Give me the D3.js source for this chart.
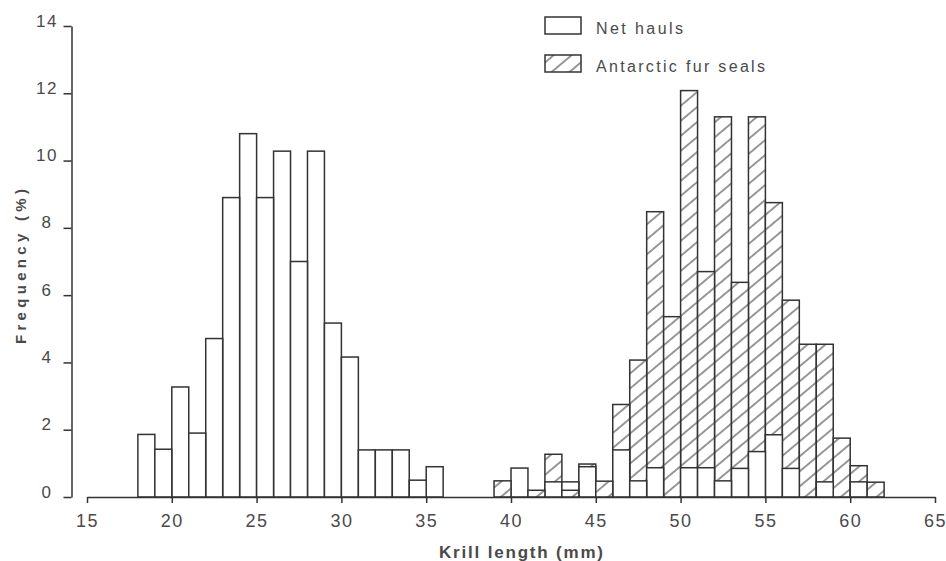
<!DOCTYPE html>
<html>
<head>
<meta charset="utf-8">
<script src="https://cdn.jsdelivr.net/npm/d3@7"></script>
<style>
  body { margin: 0; background: #fff; }
  text { font-family: "Liberation Sans", Arial, sans-serif; fill: #4a4a4a; }
</style>
</head>
<body>
<svg id="chart" width="946" height="561"></svg>
<script>
  // lower edge of each 1 mm length class
  var binStarts = [18, 19, 20, 21, 22, 23, 24, 25, 26, 27, 28, 29, 30, 31, 32, 33, 34, 35, 36, 37, 38, 39,
                   40, 41, 42, 43, 44, 45, 46, 47, 48, 49, 50, 51, 52, 53, 54, 55, 56, 57, 58, 59, 60, 61];

  // frequency (%) per class
  var netHauls = [1.86, 1.42, 3.27, 1.9, 4.71, 8.9, 10.8, 8.9, 10.28, 7.0, 10.28, 5.17, 4.16, 1.4, 1.4, 1.4, 0.5, 0.9, 0, 0, 0, 0,
                  0.86, 0, 0.45, 0.45, 0.9, 0, 1.4, 0.48, 0.87, 0, 0.87, 0.87, 0.48, 0.85, 1.35, 1.85, 0.85, 0, 0.45, 0, 0.45, 0];
  var furSeals = [0, 0, 0, 0, 0, 0, 0, 0, 0, 0, 0, 0, 0, 0, 0, 0, 0, 0, 0, 0, 0, 0.48,
                  0, 0.2, 1.27, 0.2, 0.98, 0.47, 2.75, 4.07, 8.48, 5.36, 12.08, 6.7, 11.3, 6.38, 11.3, 8.75, 5.85, 4.54, 4.54, 1.75, 0.93, 0.44];

  var xTicks = [15, 20, 25, 30, 35, 40, 45, 50, 55, 60, 65];
  var yTicks = [0, 2, 4, 6, 8, 10, 12, 14];
  var legendLabels = ["Net hauls", "Antarctic fur seals"];

  var svg = d3.select("#chart"),
      margin = {top: 26, right: 11, bottom: 64, left: 87},
      width = +svg.attr("width") - margin.left - margin.right,
      height = +svg.attr("height") - margin.top - margin.bottom;

  var x = d3.scaleLinear().domain([15, 65]).range([0, width]),
      y = d3.scaleLinear().domain([0, 14]).range([height, 0]);

  var ink = "#333";

  // diagonal hatching for the fur seal bars
  svg.append("defs").append("pattern")
      .attr("id", "hatch")
      .attr("patternUnits", "userSpaceOnUse")
      .attr("width", 10)
      .attr("height", 11.5)
      .attr("patternTransform", "rotate(-40)")
    .call(function(p) {
      p.append("rect").attr("width", 10).attr("height", 11.5).attr("fill", "#fff");
      p.append("line")
          .attr("x1", 0).attr("x2", 10)
          .attr("y1", 5.75).attr("y2", 5.75)
          .attr("stroke", "#444")
          .attr("stroke-width", 1.1);
    });

  var g = svg.append("g")
      .attr("transform", "translate(" + margin.left + "," + margin.top + ")");

  // both series start at zero in every class; the taller one goes behind
  var bars = [];
  binStarts.forEach(function(b, i) {
    if (netHauls[i] > 0) bars.push({bin: b, value: netHauls[i], kind: "net"});
    if (furSeals[i] > 0) bars.push({bin: b, value: furSeals[i], kind: "seal"});
  });
  bars.sort(function(a, b) { return b.value - a.value; });

  g.selectAll(".bar")
      .data(bars)
    .enter().append("rect")
      .attr("class", "bar")
      .attr("x", function(d) { return x(d.bin); })
      .attr("width", function(d) { return x(d.bin + 1) - x(d.bin); })
      .attr("y", function(d) { return y(d.value); })
      .attr("height", function(d) { return height - y(d.value); })
      .attr("fill", function(d) { return d.kind === "seal" ? "url(#hatch)" : "#fff"; })
      .attr("stroke", ink)
      .attr("stroke-width", 1.5);

  // x axis, detached from the y axis
  var xAxis = g.append("g")
      .attr("transform", "translate(0," + height + ")")
      .attr("color", ink)
      .attr("font-size", null)
      .call(d3.axisBottom(x).tickValues(xTicks).tickSize(6).tickSizeOuter(0));
  xAxis.selectAll("path, line").attr("stroke-width", 1.5);
  xAxis.selectAll("text")
      .attr("y", 30)
      .attr("dy", null)
      .attr("font-size", 18)
      .style("font-size", "18px")
      .style("letter-spacing", "1.5px")
      .style("fill", "#4a4a4a");

  var yAxis = g.append("g")
      .attr("transform", "translate(-15.5,0)")
      .attr("color", ink)
      .call(d3.axisLeft(y).tickValues(yTicks).tickSize(8).tickSizeOuter(0));
  yAxis.selectAll("path, line").attr("stroke-width", 1.5);
  yAxis.selectAll("text")
      .attr("x", -24.5)
      .attr("y", 0)
      .attr("dy", null)
      .attr("text-anchor", "middle")
      .style("font-size", "17px")
      .style("letter-spacing", "1.5px")
      .style("fill", "#4a4a4a");

  // axis titles
  svg.append("text")
      .attr("x", 439)
      .attr("y", 558)
      .attr("textLength", 164)
      .attr("lengthAdjust", "spacing")
      .style("font-size", "17px")
      .style("font-weight", "bold")
      .text("Krill length (mm)");

  svg.append("text")
      .attr("transform", "translate(26,344) rotate(-90)")
      .attr("textLength", 155)
      .attr("lengthAdjust", "spacing")
      .style("font-size", "15px")
      .style("font-weight", "bold")
      .text("Frequency (%)");

  // legend
  var legend = svg.append("g").attr("transform", "translate(545,17)");
  var legendItem = legend.selectAll("g")
      .data(legendLabels)
    .enter().append("g")
      .attr("transform", function(d, i) { return "translate(0," + i * 38 + ")"; });
  legendItem.append("rect")
      .attr("width", 36)
      .attr("height", 17)
      .attr("fill", function(d, i) { return i ? "url(#hatch)" : "#fff"; })
      .attr("stroke", ink)
      .attr("stroke-width", 1.5);
  legendItem.append("text")
      .attr("x", 51)
      .attr("y", 17)
      .attr("textLength", function(d, i) { return i ? 169 : 87; })
      .attr("lengthAdjust", "spacing")
      .style("font-size", "16px")
      .text(function(d) { return d; });
</script>
</body>
</html>
